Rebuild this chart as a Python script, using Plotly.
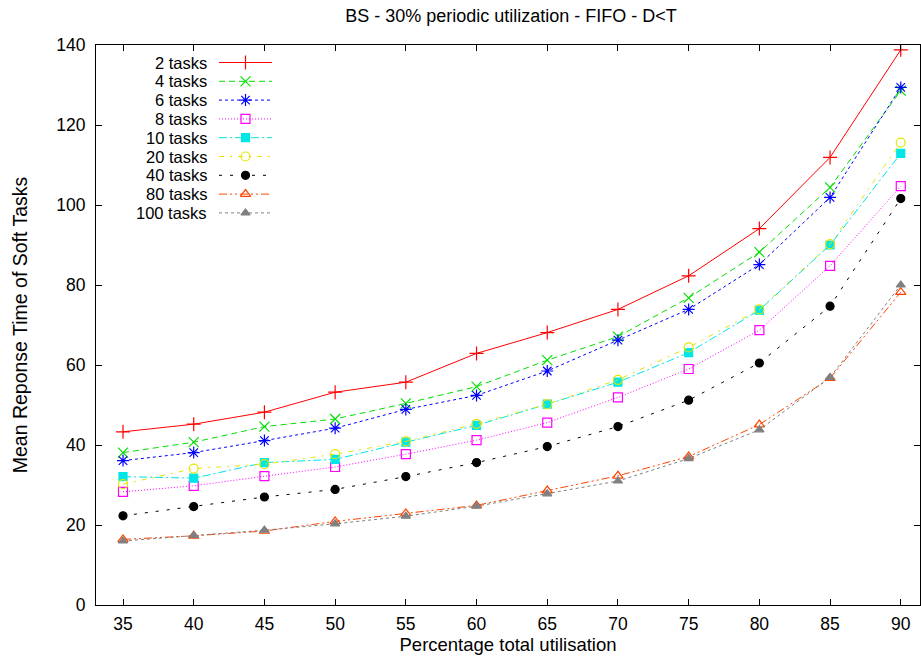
import plotly.graph_objects as go

utilisation = [35, 40, 45, 50, 55, 60, 65, 70, 75, 80, 85, 90]

series_names = ["2 tasks", "4 tasks", "6 tasks", "8 tasks", "10 tasks",
                "20 tasks", "40 tasks", "80 tasks", "100 tasks"]

tasks_2 = [43.3, 45.2, 48.2, 53.2, 55.7, 62.9, 68.1, 73.9, 82.3, 94.1, 111.9, 138.8]
tasks_4 = [38.1, 40.7, 44.6, 46.5, 50.4, 54.6, 61.2, 67.1, 76.8, 88.2, 104.4, 128.6]
tasks_6 = [36.1, 38.1, 41.1, 44.2, 48.9, 52.4, 58.5, 66.2, 73.9, 85.1, 101.9, 129.4]
tasks_8 = [28.3, 29.8, 32.2, 34.5, 37.7, 41.2, 45.6, 51.9, 59.0, 68.7, 84.8, 104.7]
tasks_10 = [32.1, 31.7, 35.6, 36.4, 40.7, 44.9, 50.2, 55.7, 63.1, 73.7, 90.0, 112.9]
tasks_20 = [30.2, 34.1, 35.2, 37.7, 40.9, 45.3, 50.2, 56.3, 64.4, 73.9, 90.2, 115.6]
tasks_40 = [22.3, 24.6, 27.0, 28.9, 32.1, 35.6, 39.6, 44.6, 51.2, 60.5, 74.7, 101.6]
tasks_80 = [16.4, 17.3, 18.5, 20.9, 22.9, 24.9, 28.6, 32.3, 37.1, 45.1, 56.7, 78.2]
tasks_100 = [16.0, 17.4, 18.7, 20.3, 22.2, 24.7, 27.8, 31.0, 36.6, 43.8, 56.9, 80.0]

y_ticks = [0, 20, 40, 60, 80, 100, 120, 140]

all_series = [tasks_2, tasks_4, tasks_6, tasks_8, tasks_10,
              tasks_20, tasks_40, tasks_80, tasks_100]

colors = ["#ff0000", "#00e000", "#0000ff", "#ff00ff", "#00e5e5",
          "#e5e500", "#000000", "#ff4500", "#808080"]
dashes = ["solid", "6px,4px", "3px,3px", "1px,2px", "8px,3px,2px,3px",
          "5px,6px,2px,6px", "3px,8px", "8px,3px,2px,3px,2px,3px", "3px,3px"]
symbols = ["cross-thin-open", "x-thin-open", "asterisk-open", "square-open", "square",
           "circle-open", "circle", "triangle-up-open", "triangle-up"]
sizes = [10, 10, 10, 9, 8, 9, 8, 9, 8]

FONT = "Liberation Sans, Arial, sans-serif"

# Page geometry (pixels) used for the gnuplot-style key
W, H = 921, 668
ML, MR, MT, MB = 96, 1, 45, 63
KEY_TEXT_RIGHT = 208
KEY_LINE_X0, KEY_LINE_X1 = 219, 272
KEY_ROW0, KEY_ROW_STEP = 62.5, 18.8

fig = go.Figure()
for name, ys, c, d, s, sz in zip(series_names, all_series, colors, dashes, symbols, sizes):
    fig.add_trace(go.Scatter(
        x=utilisation, y=ys, name=name, mode="lines+markers",
        line=dict(color=c, width=1, dash=d),
        marker=dict(symbol=s, size=sz, color=c, line=dict(color=c, width=1.2)),
        showlegend=False,
    ))

# gnuplot-like key: text right-aligned, then line sample with a point in its middle
for i, (name, c, d, s, sz) in enumerate(zip(series_names, colors, dashes, symbols, sizes)):
    ry = KEY_ROW0 + i * KEY_ROW_STEP
    fig.add_trace(go.Scatter(
        x=[KEY_LINE_X0, KEY_LINE_X1], y=[ry, ry], xaxis="x2", yaxis="y2",
        mode="lines", line=dict(color=c, width=1, dash=d),
        showlegend=False, hoverinfo="skip",
    ))
    fig.add_trace(go.Scatter(
        x=[(KEY_LINE_X0 + KEY_LINE_X1) / 2], y=[ry], xaxis="x2", yaxis="y2",
        mode="markers", marker=dict(symbol=s, size=sz, color=c, line=dict(color=c, width=1.2)),
        showlegend=False, hoverinfo="skip",
    ))
    fig.add_annotation(
        x=KEY_TEXT_RIGHT, y=ry, xref="x2", yref="y2", text=name, showarrow=False,
        xanchor="right", yanchor="middle", borderpad=0,
        font=dict(family=FONT, size=16.5, color="black"),
    )

axis_common = dict(
    showline=True, linecolor="black", linewidth=1, mirror="allticks",
    ticks="inside", ticklen=6, tickcolor="black", showgrid=False, zeroline=False,
    tickfont=dict(family=FONT, size=17.5, color="black"),
)

fig.update_layout(
    width=W, height=H,
    margin=dict(l=ML, r=MR, t=MT, b=MB),
    paper_bgcolor="white", plot_bgcolor="white",
    title=dict(text="BS - 30% periodic utilization - FIFO - D<T", x=511 / W, xanchor="center",
               y=1 - 15.5 / H, yanchor="middle",
               font=dict(family=FONT, size=18, color="black")),
    xaxis=dict(range=[33.09, 91.36], tickvals=utilisation, ticktext=[str(v) for v in utilisation],
               ticklabelstandoff=3,
               title=dict(text="Percentage total utilisation", standoff=3,
                          font=dict(family=FONT, size=18.5, color="black")),
               **axis_common),
    yaxis=dict(range=[0, 140], tickvals=y_ticks,
               ticklabelstandoff=6,
               title=dict(text="Mean Reponse Time of Soft Tasks", standoff=23,
                          font=dict(family=FONT, size=19.5, color="black")),
               **axis_common),
    xaxis2=dict(overlaying="x", range=[ML, W - MR], visible=False, fixedrange=True),
    yaxis2=dict(overlaying="y", range=[H - MB, MT], visible=False, fixedrange=True),
    showlegend=False,
)

fig.write_html("out.html")
